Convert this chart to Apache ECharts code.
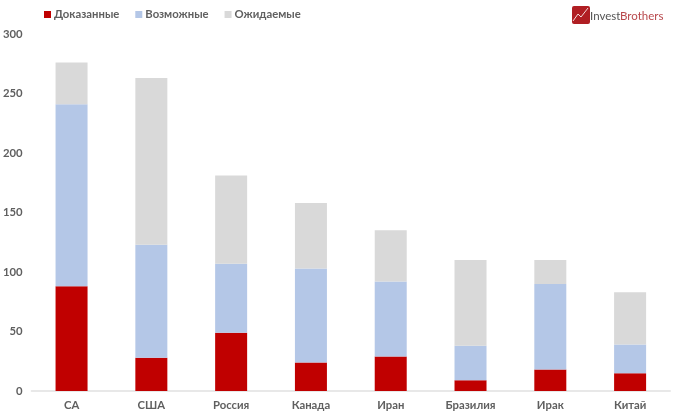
<!DOCTYPE html>
<html><head><meta charset="utf-8">
<style>html,body{margin:0;padding:0;background:#fff}#c{width:680px;height:418px}</style>
<script src="https://cdn.jsdelivr.net/npm/echarts@6/dist/echarts.min.js"></script>
</head><body><div id="c"></div>
<script>
const categories = ['СА','США','Россия','Канада','Иран','Бразилия','Ирак','Китай'];
const proved = [88,28,49,24,29,9,18,15];
const possible = [153,95,58,79,63,29,72,24];
const expected = [35,140,74,55,43,72,20,44];
const yTicks = {min:0,max:300,interval:50};
const font = 'Lato,"Open Sans",sans-serif';
const chart = echarts.init(document.getElementById('c'),null,{renderer:'canvas'});
const mk = (name,data,color)=>({name,type:'bar',stack:'t',data,barWidth:32,itemStyle:{color},emphasis:{disabled:true}});
chart.setOption({
  animation:false,
  backgroundColor:'#fff',
  legend:{left:39,top:4,itemWidth:7,itemHeight:7,itemGap:16,icon:'rect',
    textStyle:{color:'#5f5f5f',fontSize:11.3,fontWeight:'bold',fontFamily:font,padding:[0,0,0,-2]},
    data:['Доказанные','Возможные','Ожидаемые']},
  grid:{left:30,right:10,top:34,bottom:27},
  xAxis:{type:'category',data:categories,
    axisLine:{lineStyle:{color:'#e8e8e8',width:2}},axisTick:{show:false},
    axisLabel:{color:'#5f5f5f',fontSize:11.3,fontWeight:'bold',fontFamily:font,margin:9}},
  yAxis:{type:'value',min:yTicks.min,max:yTicks.max,interval:yTicks.interval,
    axisLine:{show:false},axisTick:{show:false},splitLine:{show:false},
    axisLabel:{color:'#5f5f5f',fontSize:11.3,fontWeight:'bold',fontFamily:font,margin:9}},
  series:[mk('Доказанные',proved,'#c00000'),mk('Возможные',possible,'#b4c7e7'),mk('Ожидаемые',expected,'#d9d9d9')],
  graphic:[
    {type:'rect',shape:{x:572,y:6,width:18,height:18,r:2},style:{fill:'#b01e23'}},
    {type:'polyline',shape:{points:[[573,21],[578,14],[581,17],[588,8]]},style:{stroke:'#f3d9d9',fill:null,lineWidth:1}},
    {type:'text',left:590,top:10,style:{text:'Invest',fill:'#555',font:'11.5px '+font}},
    {type:'text',left:620,top:10,style:{text:'Brothers',fill:'#b8484c',font:'11.5px '+font}}
  ]
});
</script></body></html>
